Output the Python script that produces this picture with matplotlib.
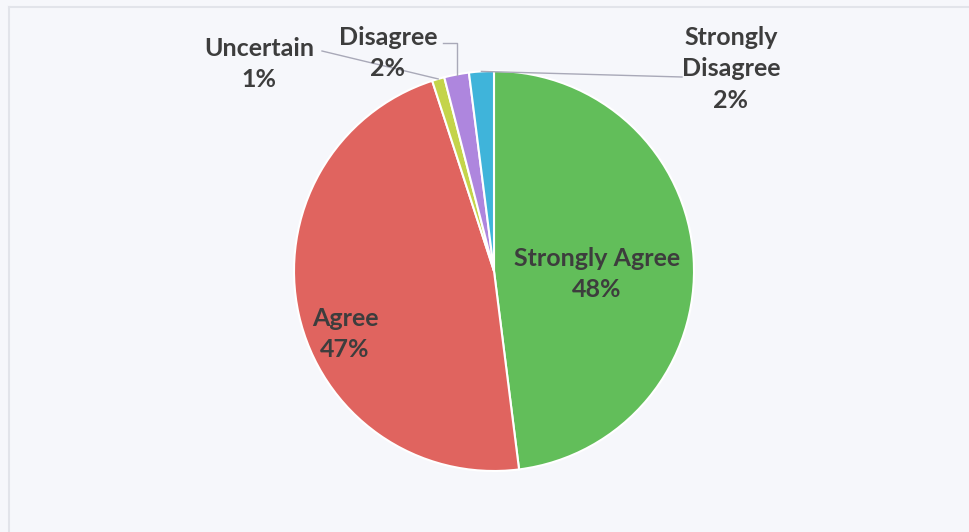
import matplotlib
matplotlib.use("Agg")
import matplotlib.pyplot as plt
import numpy as np

categories = ["Strongly Agree", "Agree", "Uncertain", "Disagree", "Strongly\nDisagree"]
values = [48, 47, 1, 2, 2]
colors = ["#62BE5A", "#E0645F", "#C4D44A", "#AE86DE", "#3FB4DA"]

W, H = 969, 532
fig = plt.figure(figsize=(W / 100, H / 100), dpi=100, facecolor="#F6F7FB")
ax = fig.add_axes([0, 0, 1, 1])
ax.set_xlim(0, W)
ax.set_ylim(0, H)
ax.set_aspect("equal")
ax.axis("off")

# faint scan border
ax.plot([9, 9], [0, H - 7], color="#E2E4EA", lw=1.5)
ax.plot([9, W], [H - 7, H - 7], color="#E2E4EA", lw=1.5)

cx, cy, r = 494, 532 - 271, 200
wedges, _ = ax.pie(values, colors=colors, startangle=90, counterclock=False,
                   center=(cx, cy), radius=r,
                   wedgeprops=dict(edgecolor="white", linewidth=1.5))
ax.set_xlim(0, W)
ax.set_ylim(0, H)

tc = "#3D3D3D"
fkw = dict(fontsize=18, fontweight="bold", color=tc, family=["Lato", "DejaVu Sans"],
           ha="center", va="center", linespacing=1.45)

def wedge_point(w, frac):
    ang = np.deg2rad((w.theta1 + w.theta2) / 2)
    return cx + frac * r * np.cos(ang), cy + frac * r * np.sin(ang)

# inside labels
ax.text(597, 532 - 274, f"{categories[0]}\n{values[0]}%", **fkw)
ax.text(345, 532 - 334, f"{categories[1]}\n{values[1]}%", **fkw)

# outside labels with leader lines
ax.text(259, 532 - 64, f"{categories[2]}\n{values[2]}%", **fkw)
ax.text(388, 532 - 53, f"{categories[3]}\n{values[3]}%", **fkw)
ax.text(731, 532 - 69, f"{categories[4]}\n{values[4]}%", **fkw)

lc = "#A9A9B8"
ex, ey = wedge_point(wedges[2], 1.0)
ax.plot([322, ex], [532 - 51, ey], color=lc, lw=1)
ex, ey = wedge_point(wedges[3], 1.0)
ax.plot([443, ex, ex], [532 - 43, 532 - 43, ey], color=lc, lw=1)
ex, ey = wedge_point(wedges[4], 1.0)
ax.plot([ex, 682], [ey, 532 - 77], color=lc, lw=1)

fig.savefig("out.png", dpi=100, facecolor=fig.get_facecolor())
